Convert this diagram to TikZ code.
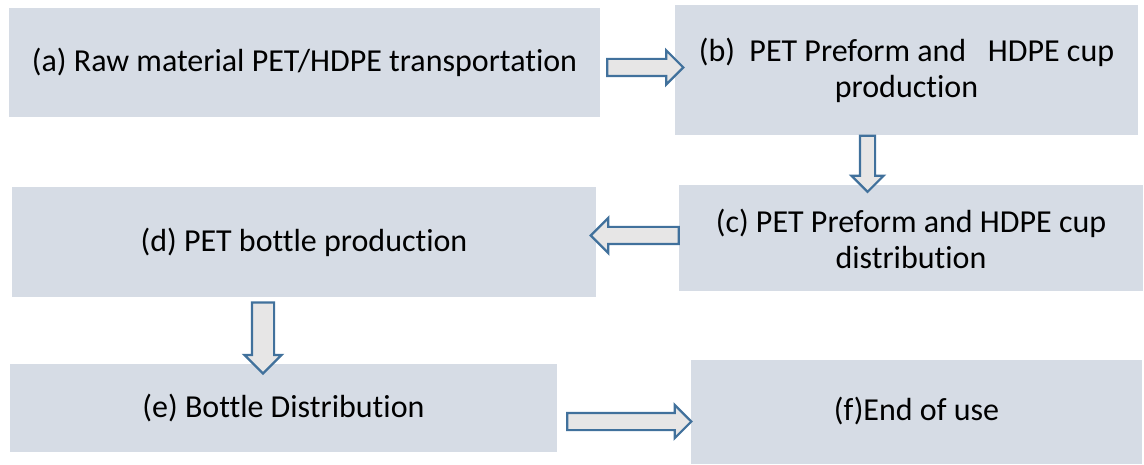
\documentclass[tikz,border=0pt]{standalone}
\usepackage{fontspec}
\setmainfont{Carlito}[Ligatures=NoCommon]
\usetikzlibrary{shapes.arrows}
\definecolor{boxfill}{HTML}{D6DCE5}
\definecolor{arrowfill}{HTML}{E7E6E6}
\definecolor{arrowline}{HTML}{41719C}

\begin{document}
\begin{tikzpicture}[x=1pt, y=-1pt,
  stage/.style={fill=boxfill, inner sep=0pt, align=center, font=\fontsize{32}{36}\selectfont},
  fatarrow/.style={single arrow, draw=arrowline, fill=arrowfill, line width=2.2pt,
    inner xsep=0pt}]
  \useasboundingbox (0,0) rectangle (1144,465);

  % process boxes
  \node[stage, minimum width=591, minimum height=109] (rawmat) at (304.5,62.5)
    {(a) Raw material PET/HDPE transportation};
  \node[stage, minimum width=463, minimum height=130] (preform) at (906.5,70)
    {(b)\ \ PET Preform and\ \ \ HDPE cup\\production};
  \node[stage, minimum width=464, minimum height=106] (predist) at (911,238.5)
    {(c) PET Preform and HDPE cup\\distribution};
  \node[stage, minimum width=584, minimum height=110] (bottle) at (304,242)
    {(d) PET bottle production};
  \node[stage, minimum width=547, minimum height=88] (botdist) at (283.5,408)
    {(e) Bottle Distribution};
  \node[stage, minimum width=451, minimum height=104] (enduse) at (916.5,411.5)
    {(f)End of use};

  % block arrows
  \node[fatarrow, minimum height=76, inner ysep=7.5, single arrow head extend=8.5] (arrab) at (641,67.5) {};
  \node[fatarrow, rotate=-90, minimum height=56, inner ysep=6.5, single arrow head extend=8.5] (arrbc) at (867.5,160) {};
  \node[fatarrow, rotate=180, minimum height=88, inner ysep=7.5, single arrow head extend=9] (arrcd) at (639,235.5) {};
  \node[fatarrow, rotate=-90, minimum height=71, inner ysep=10, single arrow head extend=7.5] (arrde) at (263,332.5) {};
  \node[fatarrow, minimum height=124, inner ysep=7.5, single arrow head extend=8] (arref) at (625,421.5) {};
\end{tikzpicture}
\end{document}
